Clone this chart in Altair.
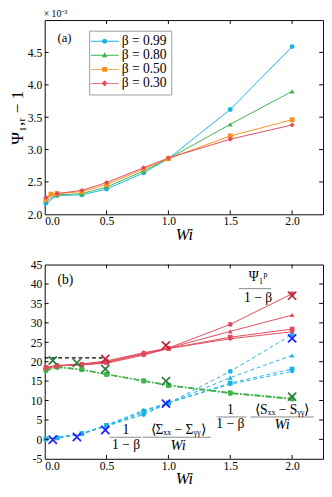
import altair as alt
import pandas as pd

FONT = "Liberation Serif"

# ---------------- data ----------------
betas = ["β = 0.99", "β = 0.80", "β = 0.50", "β = 0.30"]
colors_a = ["#1BB1E7", "#3DB54A", "#F6921E", "#E14A5C"]
shapes = ["circle", "triangle-up", "square", "diamond"]

# panel (a): Psi_{1,r} - 1  (x 10^-3)
wi_a = [0.01, 0.1, 0.3, 0.5, 0.8, 1.0, 1.5, 2.0]
wi_a_050 = [0.01, 0.05, 0.1, 0.3, 0.5, 0.8, 1.0, 1.5, 2.0]
psi_099 = [2.17, 2.29, 2.30, 2.39, 2.64, 2.86, 3.62, 4.59]
psi_080 = [2.21, 2.30, 2.32, 2.42, 2.67, 2.86, 3.39, 3.90]
psi_050 = [2.23, 2.31, 2.32, 2.35, 2.46, 2.70, 2.86, 3.21, 3.46]
psi_030 = [2.26, 2.32, 2.37, 2.49, 2.72, 2.87, 3.16, 3.38]

# panel (b)
wi_b = [0.01, 0.1, 0.3, 0.5, 0.8, 1.0, 1.5, 2.0]
psi1p = {
    "β = 0.99": [18.3, 19.0, 19.4, 20.2, 22.3, 23.5, 29.6, 37.5],
    "β = 0.80": [18.4, 18.9, 19.3, 20.0, 22.1, 23.5, 27.8, 32.0],
    "β = 0.50": [18.5, 18.9, 19.2, 19.8, 21.9, 23.4, 26.3, 28.4],
    "β = 0.30": [18.6, 19.0, 19.2, 19.6, 21.7, 23.4, 25.9, 27.7],
}
sxx_syy = {
    "β = 0.99": [17.6, 18.5, 17.9, 16.7, 15.0, 13.8, 11.8, 10.3],
    "β = 0.80": [17.8, 18.6, 17.9, 16.7, 15.0, 13.9, 11.9, 10.4],
    "β = 0.50": [18.0, 18.7, 18.0, 16.8, 15.1, 14.0, 12.0, 10.5],
    "β = 0.30": [18.2, 18.8, 18.0, 16.8, 15.1, 14.0, 12.0, 10.6],
}
sig_xx_yy = {
    "β = 0.99": [0.1, 0.4, 1.4, 3.4, 6.4, 9.3, 17.5, 27.0],
    "β = 0.80": [0.1, 0.4, 1.4, 3.5, 6.8, 9.3, 15.9, 21.6],
    "β = 0.50": [0.1, 0.4, 1.5, 3.6, 7.2, 9.4, 14.5, 18.1],
    "β = 0.30": [0.1, 0.4, 1.5, 3.7, 7.5, 9.4, 14.2, 17.5],
}
# reference values (crosses)
wi_x_red = [0.49, 0.98, 2.0]
x_red = [20.7, 24.2, 37.0]
wi_x = [0.065, 0.26, 0.49, 0.98, 2.0]
x_green = [20.3, 19.7, 18.1, 15.0, 11.0]
x_blue = [-0.1, 0.6, 2.4, 9.2, 26.0]
# dashed reference level
wi_ref = [0.0, 0.49]
ref_level = [21.0, 21.0]

# axis tick values
xticks = [0.0, 0.5, 1.0, 1.5, 2.0]
yticks_a = [2.0, 2.5, 3.0, 3.5, 4.0, 4.5]
yticks_b = list(range(-5, 46, 5))

# ---------------- frames ----------------
rows = []
for lab, wis, vals in zip(betas, [wi_a, wi_a, wi_a_050, wi_a], [psi_099, psi_080, psi_050, psi_030]):
    for w, v in zip(wis, vals):
        rows.append({"Wi": w, "val": v, "label": lab})
df_a = pd.DataFrame(rows)

def make_b(d):
    r = []
    for lab in betas:
        for w, v in zip(wi_b, d[lab]):
            r.append({"Wi": w, "val": v, "beta": lab})
    return pd.DataFrame(r)

df_red = make_b(psi1p)
df_green = make_b(sxx_syy)
df_blue = make_b(sig_xx_yy)
df_x = pd.DataFrame(
    [{"Wi": w, "val": v, "kind": "red"} for w, v in zip(wi_x_red, x_red)]
    + [{"Wi": w, "val": v, "kind": "green"} for w, v in zip(wi_x, x_green)]
    + [{"Wi": w, "val": v, "kind": "blue"} for w, v in zip(wi_x, x_blue)]
)
df_ref = pd.DataFrame({"Wi": wi_ref, "val": ref_level})

W = 288
HA, HB = 201, 201
TL = 4  # inward tick length

xscale = alt.Scale(domain=[0, 2.25], nice=False, zero=False)
ysc_a = alt.Scale(domain=[2.0, 5.0], nice=False, zero=False)
ysc_b = alt.Scale(domain=[-5, 45], nice=False, zero=False)

X_AXIS = alt.Axis(values=xticks, format=".1f", title="Wi", labelOverlap=False,
                  titleFontStyle="italic", titleFontSize=17, titleFont=FONT,
                  titleFontWeight="normal", titlePadding=0, labelPadding=2)
Y_AXIS_A = alt.Axis(values=yticks_a, format=".1f", labelOverlap=False,
                    title="Ψ₁,ᵣ − 1", titleFontSize=18, titleFont=FONT,
                    titleFontWeight="normal", titlePadding=1)
Y_AXIS_B = alt.Axis(values=yticks_b, labelExpr="'' + datum.value", labelOverlap=False, title=None)

def xs():
    return alt.X("Wi:Q", scale=xscale, axis=X_AXIS)

def ya():
    return alt.Y("val:Q", scale=ysc_a, axis=Y_AXIS_A)

def yb():
    return alt.Y("val:Q", scale=ysc_b, axis=Y_AXIS_B)

def tick_layers(xv, yv, yfun, H):
    dfx = pd.DataFrame({"Wi": xv})
    dfy = pd.DataFrame({"val": yv})
    base_x = alt.Chart(dfx).mark_rule(color="black", strokeWidth=1)
    base_y = alt.Chart(dfy).mark_rule(color="black", strokeWidth=1)
    return [
        base_x.encode(x=xs(), y=alt.value(0), y2=alt.value(TL)),
        base_x.encode(x=xs(), y=alt.value(H), y2=alt.value(H - TL)),
        base_y.encode(y=yfun(), x=alt.value(0), x2=alt.value(TL)),
        base_y.encode(y=yfun(), x=alt.value(W), x2=alt.value(W - TL)),
    ]

# ---------------- panel (a) ----------------
col_a = alt.Color("label:N", scale=alt.Scale(domain=betas, range=colors_a), legend=None)

lines_a = alt.Chart(df_a).mark_line(strokeWidth=1).encode(x=xs(), y=ya(), color=col_a, detail="label:N")
points_a = alt.Chart(df_a).mark_point(filled=True, size=26, opacity=1).encode(
    x=xs(), y=ya(), color=col_a,
    shape=alt.Shape("label:N", scale=alt.Scale(domain=betas, range=shapes), legend=None))

leg_paths = [
    "M-1.29,-0.07H2.8V0.07H-1.29ZM1.08,0A0.37,0.37 0 1,1 0.34,0A0.37,0.37 0 1,1 1.08,0Z",
    "M-1.29,-0.07H2.8V0.07H-1.29ZM0.71,-0.45L1.12,0.3L0.3,0.3Z",
    "M-1.29,-0.07H2.8V0.07H-1.29ZM0.35,-0.36H1.07V0.36H0.35Z",
    "M-1.29,-0.07H2.8V0.07H-1.29ZM0.71,-0.45L1.13,0L0.71,0.45L0.29,0Z",
]
leg_props = dict(orient="none", legendX=46, legendY=11, title=None, strokeColor="#999999",
                 fillColor="white", padding=4, symbolSize=196, symbolStrokeWidth=0,
                 labelOffset=15.6, labelFont=FONT, labelFontSize=14, rowPadding=0.5,
                 labelColor="black")
legend_a = alt.Chart(df_a).transform_filter("false").mark_point(filled=True, opacity=1).encode(
    x=xs(), y=ya(),
    color=alt.Color("label:N", scale=alt.Scale(domain=betas, range=colors_a), legend=alt.Legend(**leg_props)),
    shape=alt.Shape("label:N", scale=alt.Scale(domain=betas, range=leg_paths), legend=alt.Legend(**leg_props)),
)

txt_a = alt.Chart(pd.DataFrame({"Wi": [0.16], "val": [4.72], "t": ["(a)"]})).mark_text(
    font=FONT, fontSize=13, color="black").encode(x=xs(), y=ya(), text="t:N")
exp_a = alt.Chart(pd.DataFrame({"t": ["× 10⁻³"]})).mark_text(
    font=FONT, fontSize=10, color="black", align="left", baseline="top").encode(
    x=alt.value(-1), y=alt.value(-11), text="t:N")

panel_a = alt.layer(
    lines_a, points_a, legend_a, txt_a, exp_a,
    *tick_layers(xticks[1:], yticks_a[1:], ya, HA)
).resolve_scale(color="independent", shape="independent").properties(width=W, height=HA)

# ---------------- panel (b) ----------------
shape_b = alt.Shape("beta:N", scale=alt.Scale(domain=betas, range=shapes), legend=None)

RED, GREEN, BLUE = "#E14A5C", "#3DB54A", "#1BB1E7"

def series(df, color, dash):
    kw = dict(strokeWidth=1, color=color)
    if dash:
        kw["strokeDash"] = dash
    ln = alt.Chart(df).mark_line(**kw).encode(x=xs(), y=yb(), detail="beta:N")
    pt = alt.Chart(df).mark_point(filled=True, size=24, opacity=1, color=color).encode(
        x=xs(), y=yb(), shape=shape_b)
    return [ln, pt]

ref_line = alt.Chart(df_ref).mark_line(color="black", strokeWidth=1.2, strokeDash=[4, 3]).encode(
    x=xs(), y=yb())

xmark = alt.Chart(df_x).mark_point(shape="M-1,-1L1,1M-1,1L1,-1", filled=False, size=72,
                                   strokeWidth=1.8, opacity=1).encode(
    x=xs(), y=yb(),
    color=alt.Color("kind:N", scale=alt.Scale(domain=["red", "green", "blue"],
                                              range=["#B8293B", "#2E7A3C", "#1F1FFF"]), legend=None))

ann_txt = pd.DataFrame({
    "Wi": [0.166, 1.725, 1.725, 1.50, 1.50, 1.92, 1.92, 0.657, 0.657, 1.078, 1.078],
    "val": [41.0, 41.8, 36.3, 7.5, 3.9, 7.4, 3.9, 2.4, -1.5, 2.4, -1.5],
    "t": ["(b)", "Ψ₁ᵖ", "1 − β", "1", "1 − β", "⟨Sₓₓ − Sᵧᵧ⟩", "Wi", "1", "1 − β", "⟨Σₓₓ − Σᵧᵧ⟩", "Wi"],
    "st": ["normal", "normal", "normal", "normal", "normal", "normal", "italic",
           "normal", "normal", "normal", "italic"],
})
ann_norm = alt.Chart(ann_txt[ann_txt.st == "normal"]).mark_text(
    font=FONT, fontSize=14, color="black", baseline="middle").encode(x=xs(), y=yb(), text="t:N")
ann_ital = alt.Chart(ann_txt[ann_txt.st == "italic"]).mark_text(
    font=FONT, fontSize=15, fontStyle="italic", color="black", baseline="middle").encode(
    x=xs(), y=yb(), text="t:N")

ann_bars = pd.DataFrame({
    "Wi": [1.57, 1.39, 1.663, 0.525, 0.79],
    "Wi2": [1.83, 1.63, 2.175, 0.78, 1.343],
    "val": [38.8, 5.77, 5.77, 0.55, 0.55],
})
bars = alt.Chart(ann_bars).mark_rule(color="#888888", strokeWidth=1).encode(
    x=xs(), x2="Wi2:Q", y=yb())

panel_b = alt.layer(
    ref_line,
    *series(df_blue, BLUE, [4, 3]),
    *series(df_green, GREEN, [6, 2, 1.5, 2]),
    *series(df_red, RED, None),
    xmark, bars, ann_norm, ann_ital,
    *tick_layers(xticks[1:], yticks_b[1:-1], yb, HB),
).resolve_scale(color="independent").properties(width=W, height=HB)

chart = alt.vconcat(panel_a, panel_b, spacing=15).properties(
    padding={"left": 0, "top": -8, "right": 0, "bottom": 0}
).configure_view(stroke="black", strokeWidth=1).configure_axis(
    labelFont=FONT, labelFontSize=12, labelColor="black", ticks=False, domain=False, grid=False,
    labelPadding=3, titleColor="black"
)

chart.save("out.html", embed_options={"renderer": "svg", "actions": False})
